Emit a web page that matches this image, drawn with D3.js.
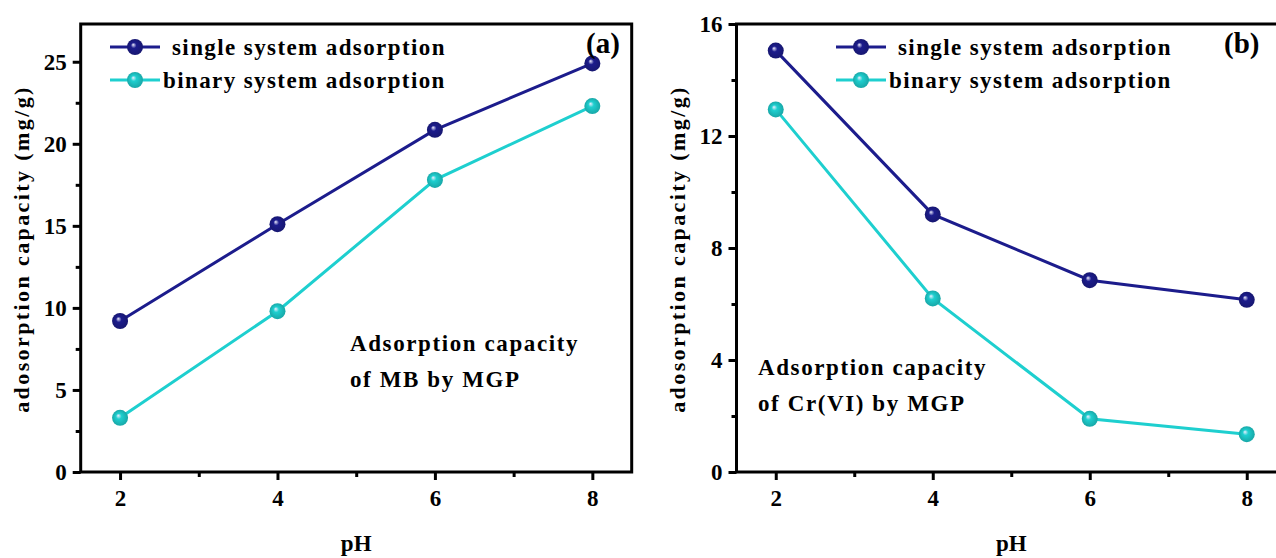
<!DOCTYPE html>
<html>
<head>
<meta charset="utf-8">
<script src="https://cdn.jsdelivr.net/npm/d3@7"></script>
<style>
  body { margin: 0; background: #fff; }
  svg text { font-family: 'Liberation Serif', 'Times New Roman', Times, 'DejaVu Serif', serif !important; font-weight: 700; }
</style>
</head>
<body>
<script>
// pH values and adsorption capacities (mg/g)
const pH = [2, 4, 6, 8];
const mbSingle = [9.2, 15.1, 20.85, 24.9];
const mbBinary = [3.3, 9.8, 17.8, 22.3];
const crSingle = [15.05, 9.2, 6.85, 6.15];
const crBinary = [12.95, 6.2, 1.9, 1.35];

const xTicks = [2, 4, 6, 8];
const xMinor = [3, 5, 7];
const mbTicks = [0, 5, 10, 15, 20, 25];
const mbMinor = [2.5, 7.5, 12.5, 17.5, 22.5];
const crTicks = [0, 4, 8, 12, 16];
const crMinor = [2, 6, 10, 14];

const seriesNames = ["single system adsorption", "binary system adsorption"];
const navy = "#1c1c8c";
const cyan = "#1ecfcf";

const width = 1276, height = 558;

const svg = d3.select("body").append("svg")
  .attr("width", width)
  .attr("height", height)
  .style("display", "block");

svg.append("rect").attr("width", width).attr("height", height).attr("fill", "#fff");

// sphere-looking markers
const defs = svg.append("defs");
const makeGrad = (id, color) => {
  const g = defs.append("radialGradient").attr("id", id)
    .attr("cx", "50%").attr("cy", "50%").attr("r", "50%")
    .attr("fx", "38%").attr("fy", "35%");
  g.append("stop").attr("offset", "0%").attr("stop-color", "#eef");
  g.append("stop").attr("offset", "35%").attr("stop-color", color);
  g.append("stop").attr("offset", "100%").attr("stop-color", d3.color(color).darker(0.6));
};
makeGrad("gNavy", navy);
makeGrad("gCyan", cyan);

const drawPanel = (cfg) => {
  const x = d3.scaleLinear().domain([1.5, 8.5]).range([cfg.left, cfg.right]);
  const y = d3.scaleLinear().domain([0, cfg.yMax]).range([472, 24]);

  const g = svg.append("g");

  // frame
  g.append("rect")
    .attr("x", cfg.left).attr("y", 24)
    .attr("width", cfg.right - cfg.left).attr("height", 448)
    .attr("fill", "none").attr("stroke", "#000").attr("stroke-width", 3);

  const xAxis = d3.axisBottom(x).tickValues(xTicks).tickSize(8).tickPadding(10).tickFormat(d3.format("d"));
  const yAxis = d3.axisLeft(y).tickValues(cfg.yTicks).tickSize(8).tickPadding(6).tickFormat(d3.format("d"));

  g.append("g")
    .attr("transform", `translate(0,472)`)
    .call(xAxis)
    .call(a => a.select(".domain").remove())
    .call(a => a.selectAll("line").attr("stroke-width", 3))
    .call(a => a.selectAll("text").attr("font-size", 23).attr("fill", "#000"));

  g.append("g")
    .attr("transform", `translate(0,472)`)
    .call(d3.axisBottom(x).tickValues(xMinor).tickSize(5).tickFormat(""))
    .call(a => a.select(".domain").remove())
    .call(a => a.selectAll("line").attr("stroke-width", 3));

  g.append("g")
    .attr("transform", `translate(${cfg.left},0)`)
    .call(yAxis)
    .call(a => a.select(".domain").remove())
    .call(a => a.selectAll("line").attr("stroke-width", 3))
    .call(a => a.selectAll("text").attr("font-size", 23).attr("fill", "#000"));

  g.append("g")
    .attr("transform", `translate(${cfg.left},0)`)
    .call(d3.axisLeft(y).tickValues(cfg.yMinor).tickSize(5).tickFormat(""))
    .call(a => a.select(".domain").remove())
    .call(a => a.selectAll("line").attr("stroke-width", 3));

  // axis titles
  g.append("text")
    .attr("x", (cfg.left + cfg.right) / 2).attr("y", 551)
    .attr("text-anchor", "middle").attr("font-size", 23)
    .text("pH");

  g.append("text")
    .attr("transform", `translate(${cfg.left - 52},249) rotate(-90)`)
    .attr("text-anchor", "middle").attr("font-size", 22)
    .attr("letter-spacing", 2.4)
    .text("adosorption capacity (mg/g)");

  const line = d3.line().x((d, i) => x(pH[i])).y(d => y(d));

  const series = [
    { values: cfg.single, color: navy, grad: "url(#gNavy)" },
    { values: cfg.binary, color: cyan, grad: "url(#gCyan)" }
  ];

  series.forEach(s => {
    g.append("path")
      .datum(s.values)
      .attr("d", line)
      .attr("fill", "none")
      .attr("stroke", s.color)
      .attr("stroke-width", 3);
    g.selectAll(null)
      .data(s.values)
      .join("circle")
        .attr("cx", (d, i) => x(pH[i]))
        .attr("cy", d => y(d))
        .attr("r", 8)
        .attr("fill", s.grad);
  });

  // legend
  series.forEach((s, i) => {
    const ly = 47 + i * 33;
    g.append("line")
      .attr("x1", cfg.legendX).attr("x2", cfg.legendX + 50)
      .attr("y1", ly).attr("y2", ly)
      .attr("stroke", s.color).attr("stroke-width", 3);
    g.append("circle")
      .attr("cx", cfg.legendX + 25).attr("cy", ly).attr("r", 8)
      .attr("fill", s.grad);
    g.append("text")
      .attr("x", cfg.legendX + (i === 0 ? 62 : 53)).attr("y", ly + 8)
      .attr("font-size", 23).attr("letter-spacing", 1.4)
      .text(seriesNames[i]);
  });

  // panel letter
  g.append("text")
    .attr("x", cfg.letterX).attr("y", 53)
    .attr("font-size", 29)
    .text(cfg.letter);

  // note
  cfg.note.forEach((t, i) => {
    g.append("text")
      .attr("x", cfg.noteX).attr("y", cfg.noteY + i * 36)
      .attr("font-size", 23).attr("letter-spacing", 1.6)
      .text(t);
  });
};

drawPanel({
  left: 80.7, right: 631.7, yMax: 27.3,
  yTicks: mbTicks, yMinor: mbMinor,
  single: mbSingle, binary: mbBinary,
  legendX: 110, letter: "(a)", letterX: 586,
  note: ["Adsorption capacity", "of MB by MGP"], noteX: 350, noteY: 351
});

drawPanel({
  left: 736.5, right: 1286, yMax: 16,
  yTicks: crTicks, yMinor: crMinor,
  single: crSingle, binary: crBinary,
  legendX: 836, letter: "(b)", letterX: 1224,
  note: ["Adsorption capacity", "of Cr(VI) by MGP"], noteX: 758, noteY: 375
});
</script>
</body>
</html>
